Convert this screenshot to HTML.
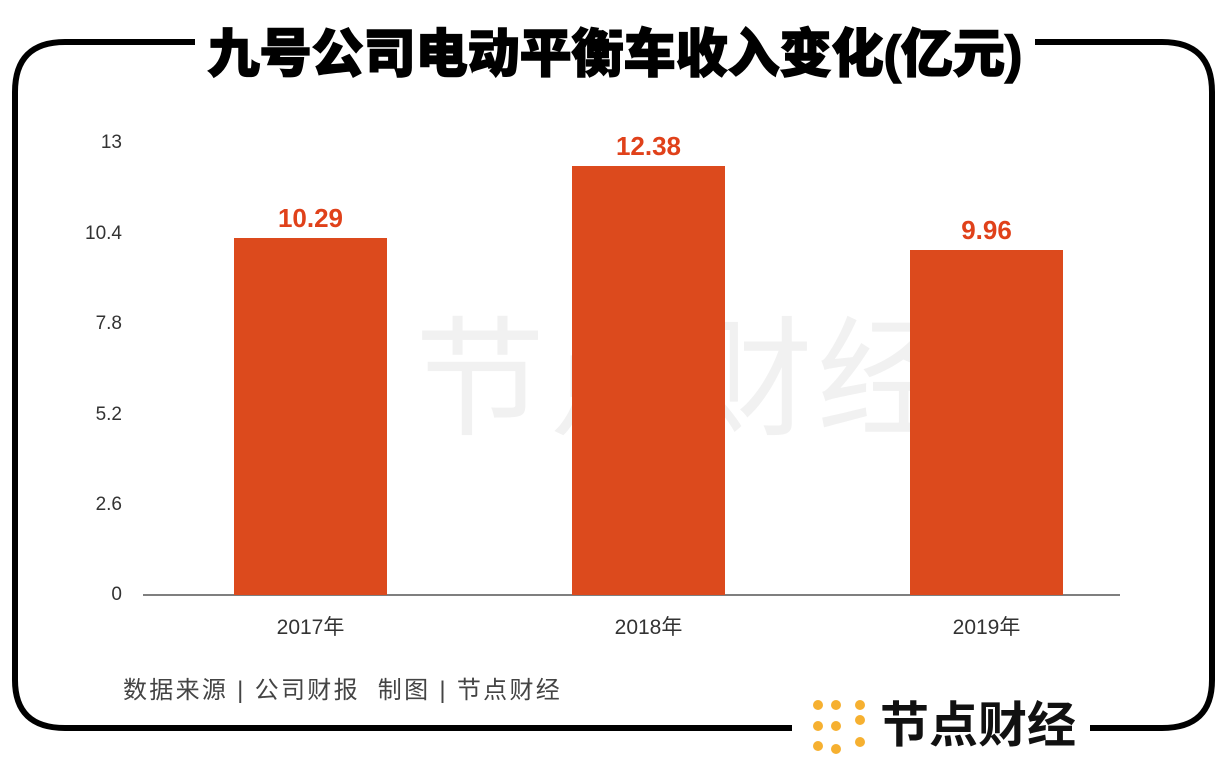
<!DOCTYPE html>
<html><head><meta charset="utf-8"><style>
body{margin:0;width:1228px;height:762px;background:#fff;position:relative;overflow:hidden;font-family:"Liberation Sans","Noto Sans CJK SC",sans-serif}
.a{position:absolute}
.t{font-size:19px;color:#333;text-align:right;width:60px;left:62px}
.bar{position:absolute;background:#dc4a1d;width:153px}
.v{position:absolute;width:153px;text-align:center;color:#e0411a;font-weight:bold;font-size:26px}
.x{position:absolute;width:153px;text-align:center;font-size:21px;color:#333;top:611px}
</style></head><body>
<svg class="a" style="left:0;top:0" width="1228" height="762">
<path d="M195 42 H65 Q15 42 15 92 V680 Q15 728 65 728 H792" fill="none" stroke="#000" stroke-width="6"/>
<path d="M1035 42 H1162 Q1212 42 1212 92 V680 Q1212 728 1162 728 H1090" fill="none" stroke="#000" stroke-width="6"/>
<line x1="143" y1="595" x2="1120" y2="595" stroke="#555" stroke-width="1.5"/>
<g fill="#f6b030">
<circle cx="818" cy="705" r="5"/><circle cx="836" cy="705" r="5"/><circle cx="860" cy="705" r="5"/>
<circle cx="818" cy="726" r="5"/><circle cx="836" cy="726" r="5"/><circle cx="860" cy="720" r="5"/>
<circle cx="818" cy="746" r="5"/><circle cx="836" cy="749" r="5"/><circle cx="860" cy="742" r="5"/>
</g>
</svg>
<div class="a" style="left:185px;top:12px;width:860px;text-align:center;font-size:52px;font-weight:900;color:#000;-webkit-text-stroke:1.5px #000">九号公司电动平衡车收入变化(亿元)</div>
<div class="a" style="left:415px;top:275px;font-size:130px;color:#f1f1f1;letter-spacing:4px">节点财经</div>
<div class="a t" style="top:132px">13</div>
<div class="a t" style="top:223px">10.4</div>
<div class="a t" style="top:313px">7.8</div>
<div class="a t" style="top:404px">5.2</div>
<div class="a t" style="top:494px">2.6</div>
<div class="a t" style="top:584px">0</div>
<div class="bar" style="left:234px;top:238px;height:357px"></div>
<div class="bar" style="left:572px;top:166px;height:429px"></div>
<div class="bar" style="left:910px;top:250px;height:345px"></div>
<div class="v" style="left:234px;top:203px">10.29</div>
<div class="v" style="left:572px;top:131px">12.38</div>
<div class="v" style="left:910px;top:215px">9.96</div>
<div class="x" style="left:234px">2017年</div>
<div class="x" style="left:572px">2018年</div>
<div class="x" style="left:910px">2019年</div>
<div class="a" style="left:123px;top:670px;font-size:24px;color:#444;white-space:nowrap;letter-spacing:2.3px">数据来源 | 公司财报 &nbsp;制图 | 节点财经</div>
<div class="a" style="left:880px;top:698px;font-size:49px;font-weight:bold;color:#111;line-height:56px">节点财经</div>
</body></html>
